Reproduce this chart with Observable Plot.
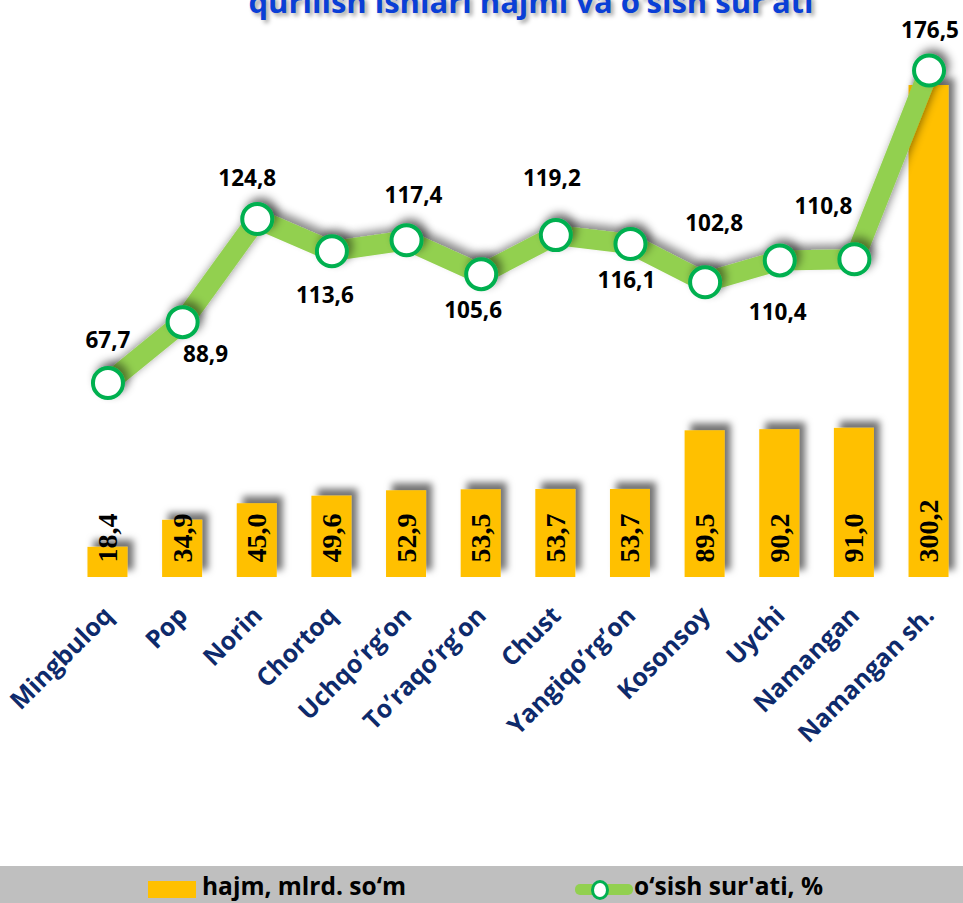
<!DOCTYPE html>
<html>
<head>
<meta charset="utf-8">
<script src="https://cdn.jsdelivr.net/npm/d3@7"></script>
<script src="https://cdn.jsdelivr.net/npm/@observablehq/plot@0.6"></script>
<style>
  html, body { margin: 0; padding: 0; background: white; overflow: hidden; }
  #wrap { position: relative; width: 963px; height: 903px; overflow: hidden; background: white; }
  #title { position: absolute; left: 0; width: 1062px; top: -14px; text-align: center;
    font-family: "Open Sans", sans-serif; font-weight: 700; font-size: 31px; line-height: 31px; color: #0a3fd6;
    text-shadow: 3px 3px 4px rgba(0,0,0,0.35); white-space: nowrap; }
  #chart { position: absolute; left: 0; top: 0; }
  #legend { position: absolute; left: 0; top: 866px; width: 963px; height: 37px; background: #BFBFBF;
    font-family: "Open Sans", sans-serif; font-weight: 700; font-size: 24.5px; color: #000; }
  .lg { position: absolute; }
</style>
</head>
<body>
<div id="wrap">
  <div id="chart"></div>
  <div id="title">qurilish ishlari hajmi va o‘sish sur’ati</div>
  <div id="legend">
    <div class="lg" style="left:148px; top:15px; width:48px; height:17px; background:#FFC000;"></div>
    <div class="lg" style="left:202px; top:5px; line-height:30px;">hajm, mlrd. so‘m</div>
    <div class="lg" style="left:575px; top:18px; width:58px; height:11px; background:#92D050; border-radius:5px;"></div>
    <div class="lg" style="left:591px; top:14px; width:12px; height:14px; background:white; border:3px solid #00B050; border-radius:50%;"></div>
    <div class="lg" style="left:634px; top:5px; line-height:30px;">o‘sish sur'ati, %</div>
  </div>
</div>
<script>
const categories = ["Mingbuloq", "Pop", "Norin", "Chortoq", "Uchqo’rg’on", "To’raqo’rg’on",
  "Chust", "Yangiqo’rg’on", "Kosonsoy", "Uychi", "Namangan", "Namangan sh."];
const hajm = [18.4, 34.9, 45.0, 49.6, 52.9, 53.5, 53.7, 53.7, 89.5, 90.2, 91.0, 300.2];
const osish = [67.7, 88.9, 124.8, 113.6, 117.4, 105.6, 119.2, 116.1, 102.8, 110.4, 110.8, 176.5];

const rows = categories.map((c, i) => ({c, h: hajm[i], g: osish[i]}));
const fmt = v => v.toFixed(1).replace(".", ",");
// secondary axis (growth %) expressed in units of the primary (volume) axis
const K = 1.7527;

// label offsets (px) for the growth labels
const offs = [[0,-42],[23,33],[-10,-40],[-7,45],[7,-44],[-8,37],[-4,-56],[-4,37],[9,-58],[-2,52],[-31,-52],[1,-40]];

const lineLabels = offs.map(([dx, dy], i) => Plot.text([rows[i]], {
  x: "c", y: d => d.g * K, text: d => fmt(d.g), dx, dy,
  fontFamily: "Open Sans", fontWeight: "bold", fontSize: 22.5, fill: "#000"
}));

const chart = Plot.plot({
  width: 963, height: 866,
  marginTop: 20, marginBottom: 289, marginLeft: 80, marginRight: 7,
  x: {domain: categories, paddingInner: 0.464, paddingOuter: 0.1, round: false, axis: null},
  y: {domain: [0, 339.87], axis: null},
  style: {background: "white", overflow: "visible"},
  marks: [
    Plot.barY(rows, {x: "c", y: "h", fill: "#FFC000"}),
    Plot.text(rows, {x: "c", y: 0, text: d => fmt(d.h), rotate: -90, textAnchor: "start",
      lineAnchor: "middle", dy: -15, fontFamily: "Liberation Serif", fontWeight: "bold",
      fontSize: 28, fill: "#000"}),
    Plot.line(rows, {x: "c", y: d => d.g * K, stroke: "#92D050", strokeWidth: 20,
      strokeLinejoin: "round", strokeLinecap: "round"}),
    Plot.dot(rows, {x: "c", y: d => d.g * K, r: 15, fill: "white", stroke: "#00B050", strokeWidth: 4}),
    ...lineLabels,
    Plot.text(rows, {x: "c", y: 0, text: "c", rotate: -45, textAnchor: "end", lineAnchor: "top",
      dx: -6, dy: 27, fontFamily: "Open Sans", fontWeight: "bold", fontSize: 25, fill: "#0E2A6B"})
  ]
});

// drop shadows
const ns = "http://www.w3.org/2000/svg";
const defs = document.createElementNS(ns, "defs");
defs.innerHTML = `
  <filter id="shBar" x="-50%" y="-50%" width="200%" height="200%">
    <feDropShadow dx="6" dy="-7" stdDeviation="3.5" flood-color="#000" flood-opacity="0.55"/>
  </filter>
  <filter id="shLine" x="-20%" y="-20%" width="140%" height="140%">
    <feDropShadow dx="4" dy="-5" stdDeviation="4" flood-color="#000" flood-opacity="0.45"/>
  </filter>`;
chart.insertBefore(defs, chart.firstChild);
const gBar = chart.querySelector('g[aria-label="bar"]');
if (gBar) gBar.setAttribute("filter", "url(#shBar)");
const gLine = chart.querySelector('g[aria-label="line"]');
if (gLine) gLine.setAttribute("filter", "url(#shLine)");
const gDot = chart.querySelector('g[aria-label="dot"]');
if (gDot) gDot.setAttribute("filter", "url(#shLine)");

document.getElementById("chart").appendChild(chart);
</script>
</body>
</html>
